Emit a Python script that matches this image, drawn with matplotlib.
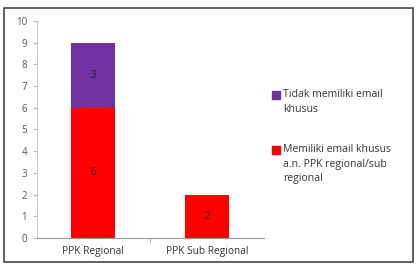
import matplotlib
matplotlib.use("Agg")
import matplotlib.pyplot as plt
from matplotlib.patches import Rectangle
import numpy as np

kategori = ["PPK Regional", "PPK Sub Regional"]
memiliki = [6, 2]
tidak_memiliki = [3, 0]
label_memiliki = "Memiliki email khusus\na.n. PPK regional/sub\nregional"
label_tidak = "Tidak memiliki email\nkhusus"
yticks = list(range(0, 11))

plt.rcParams['font.family'] = ['Open Sans', 'DejaVu Sans']

W, H = 417, 270
fig = plt.figure(figsize=(W / 100, H / 100), dpi=100)
ax = fig.add_axes([0.0887, 0.1185, 0.544, 0.804])

merah = '#ff0000'
ungu = '#7030a0'
x = np.arange(len(kategori))
lebar = 0.39

ax.bar(x, memiliki, lebar, color=merah, zorder=2)
ax.bar(x, tidak_memiliki, lebar, bottom=memiliki, color=ungu, zorder=2)

# label nilai di tengah segmen
for i in range(len(kategori)):
    if memiliki[i] > 0:
        ax.text(x[i], memiliki[i] / 2, str(memiliki[i]), ha='center', va='center',
                fontsize=7, color='#222222')
    if tidak_memiliki[i] > 0:
        ax.text(x[i], memiliki[i] + tidak_memiliki[i] / 2, str(tidak_memiliki[i]),
                ha='center', va='center', fontsize=7, color='#222222')

ax.set_xlim(-0.49, 1.5)
ax.set_ylim(0, 10)
ax.set_yticks(yticks)
ax.set_xticks(x)
ax.set_xticklabels(kategori)
ax.set_xticks([0.5], minor=True)
ax.tick_params(axis='x', which='major', length=0, labelsize=7.3, colors='#333333', pad=6)
ax.tick_params(axis='x', which='minor', length=3, color='#999999')
ax.tick_params(axis='y', length=3, labelsize=7, colors='#555555', pad=4)
ax.tick_params(axis='y', color='#bbbbbb')

for s in ['top', 'right']:
    ax.spines[s].set_visible(False)
ax.spines['bottom'].set_color('#999999')
ax.spines['left'].set_color('#cccccc')

# legenda manual: kotak warna sejajar baris pertama
def legenda(y_px, warna, teks):
    fig.patches.append(Rectangle((272 / W, 1 - (y_px + 4) / H), 8 / W, 8 / H,
                                 transform=fig.transFigure, color=warna))
    fig.text(283 / W, 1 - (y_px - 6) / H, teks, ha='left', va='top',
             fontsize=7.6, color='#333333', linespacing=1.45)

legenda(95, ungu, label_tidak)
legenda(150, merah, label_memiliki)

# bingkai luar
fig.patches.append(Rectangle((4 / W, 8 / H), 409 / W, 254 / H,
                             transform=fig.transFigure, fill=False,
                             edgecolor='#444444', linewidth=1.2))

fig.savefig("out.png", dpi=100)
